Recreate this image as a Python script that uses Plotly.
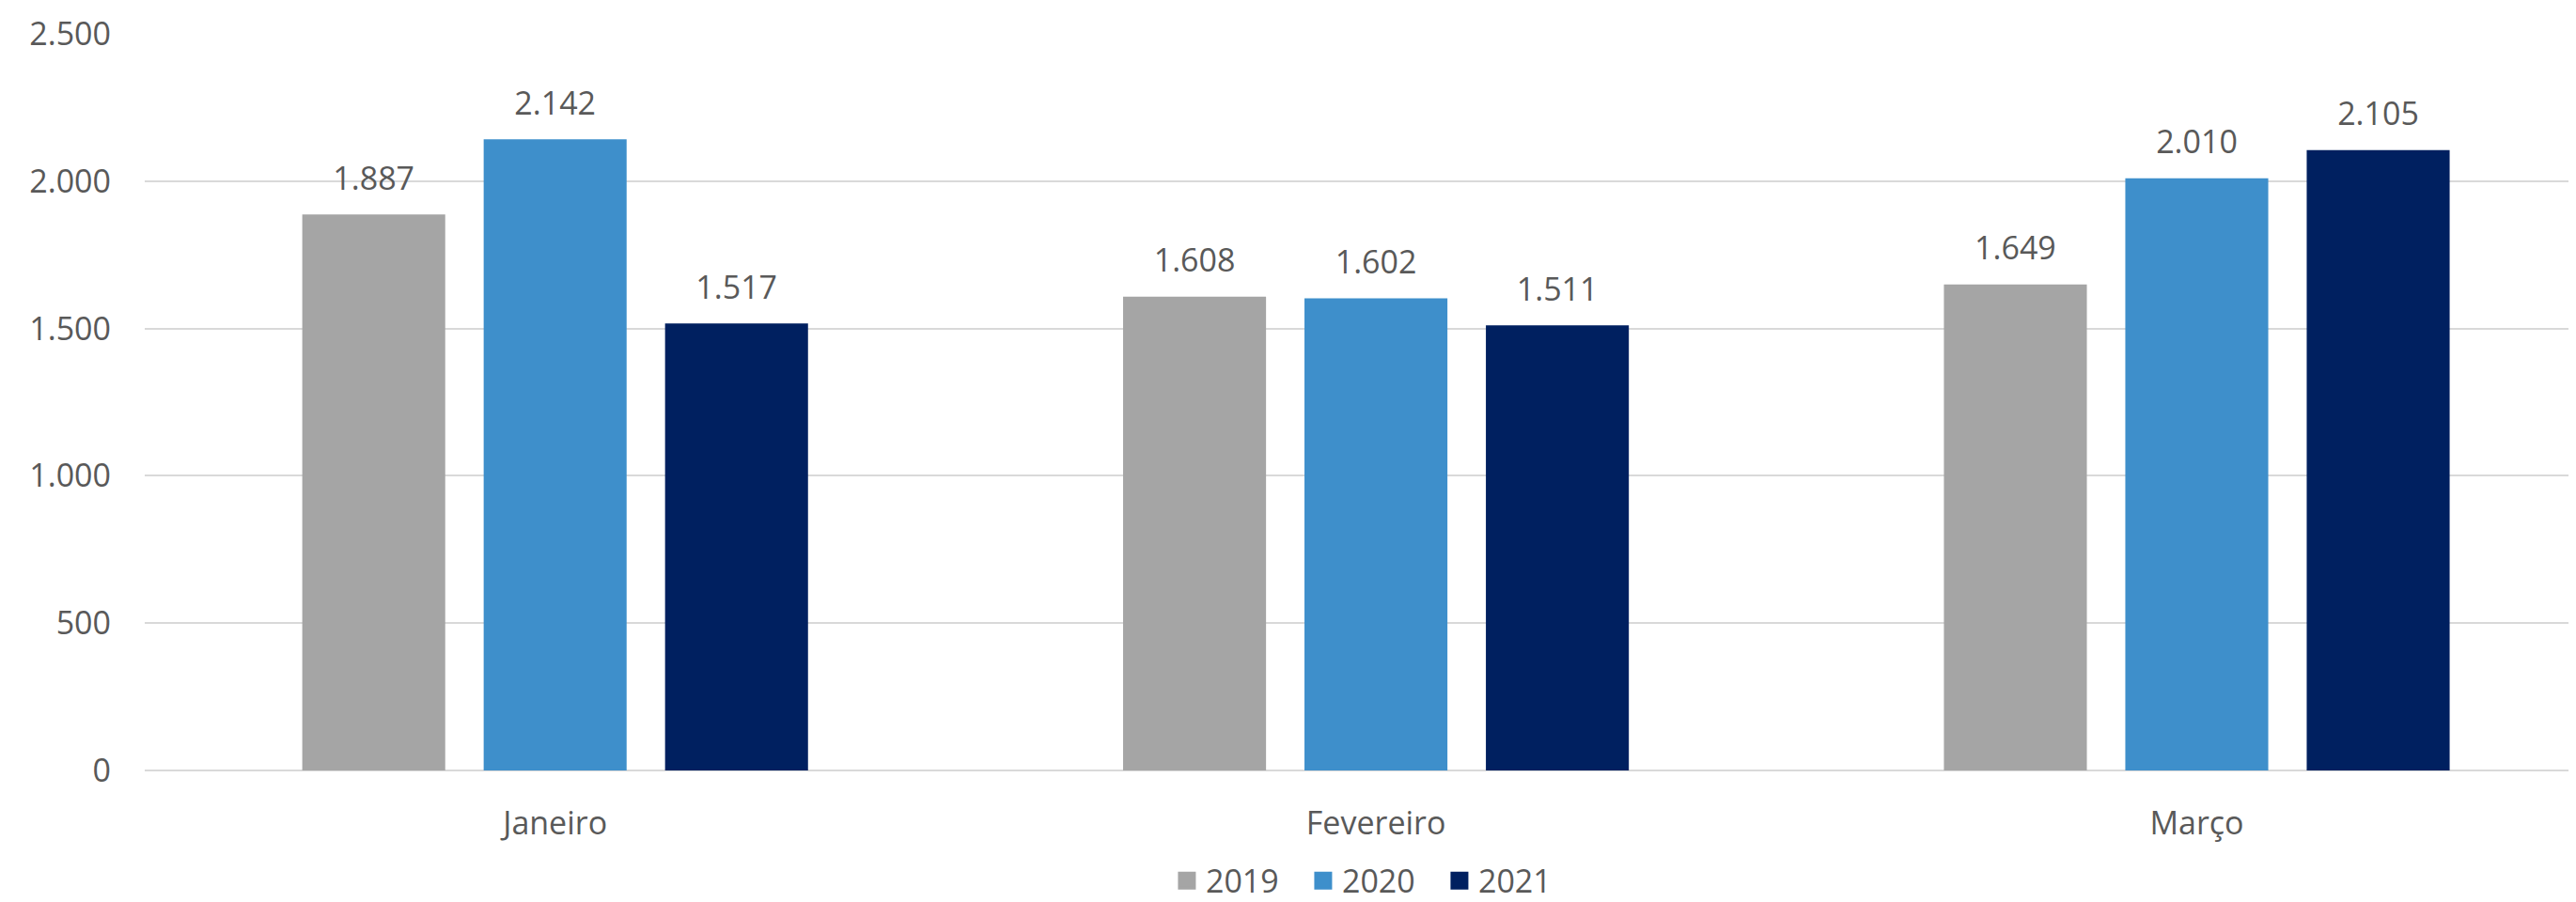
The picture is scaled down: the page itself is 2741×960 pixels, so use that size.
import plotly.graph_objects as go

months = ["Janeiro", "Fevereiro", "Março"]
years = ["2019", "2020", "2021"]
v2019 = [1887, 1608, 1649]
v2020 = [2142, 1602, 2010]
v2021 = [1517, 1511, 2105]
y_ticks = [0, 500, 1000, 1500, 2000, 2500]

series = [v2019, v2020, v2021]
colors = ["#A5A5A5", "#3E8FCB", "#002060"]
txt = "#595959"
FONT = "Open Sans"
FS = 34

fig = go.Figure()
for name, vals, col in zip(years, series, colors):
    fig.add_trace(go.Bar(
        x=months, y=vals, name=name, marker=dict(color=col, line=dict(width=0)),
        offsetgroup=name, showlegend=False, hoverinfo="skip",
    ))
for name, vals, col in zip(years, series, colors):
    fig.add_trace(go.Scatter(
        x=months, y=vals, mode="markers+text", name=name,
        text=[f"{v:,d}".replace(",", ".") for v in vals],
        textposition="top center",
        textfont=dict(family=FONT, size=FS, color=txt),
        marker=dict(size=27, color="rgba(0,0,0,0)"),
        offsetgroup=name, showlegend=False, hoverinfo="skip", cliponaxis=False,
    ))
for name, col in zip(years, colors):
    fig.add_trace(go.Scatter(
        x=[None], y=[None], mode="markers", name=name,
        marker=dict(symbol="square", size=16, color=col, line=dict(color=col, width=3)),
        offsetgroup=name, showlegend=True,
    ))

# page body has an 8px margin; compensate so the plot sits where the reference has it
fig.update_layout(
    width=2733, height=952,
    margin=dict(l=146, r=0, t=28, b=140, autoexpand=False),
    paper_bgcolor="white", plot_bgcolor="white",
    barmode="group", bargap=0.337, bargroupgap=0.212,
    scattermode="group", scattergap=0.337,
    separators=",.",
    font=dict(family=FONT, size=FS, color=txt),
    legend=dict(orientation="h", x=0.505, xanchor="center", y=-0.15, yanchor="middle",
                font=dict(family=FONT, size=FS, color=txt), traceorder="normal",
                itemclick=False, entrywidth=100, entrywidthmode="pixels"),
    showlegend=True,
)
fig.update_xaxes(
    categoryorder="array", categoryarray=months,
    range=[-0.5, 2.462], showgrid=False, showline=False, zeroline=False,
    ticks="", ticklabelstandoff=33, automargin=False,
    tickfont=dict(family=FONT, size=FS, color=txt),
)
fig.update_yaxes(
    range=[0, 2500], tickvals=y_ticks, tickformat=",d",
    showgrid=True, gridcolor="#D9D9D9", gridwidth=2,
    zeroline=True, zerolinecolor="#D9D9D9", zerolinewidth=2,
    showline=False, ticks="", ticklabelstandoff=35, automargin=False,
    tickfont=dict(family=FONT, size=FS, color=txt),
)

fig.write_html("out.html")
